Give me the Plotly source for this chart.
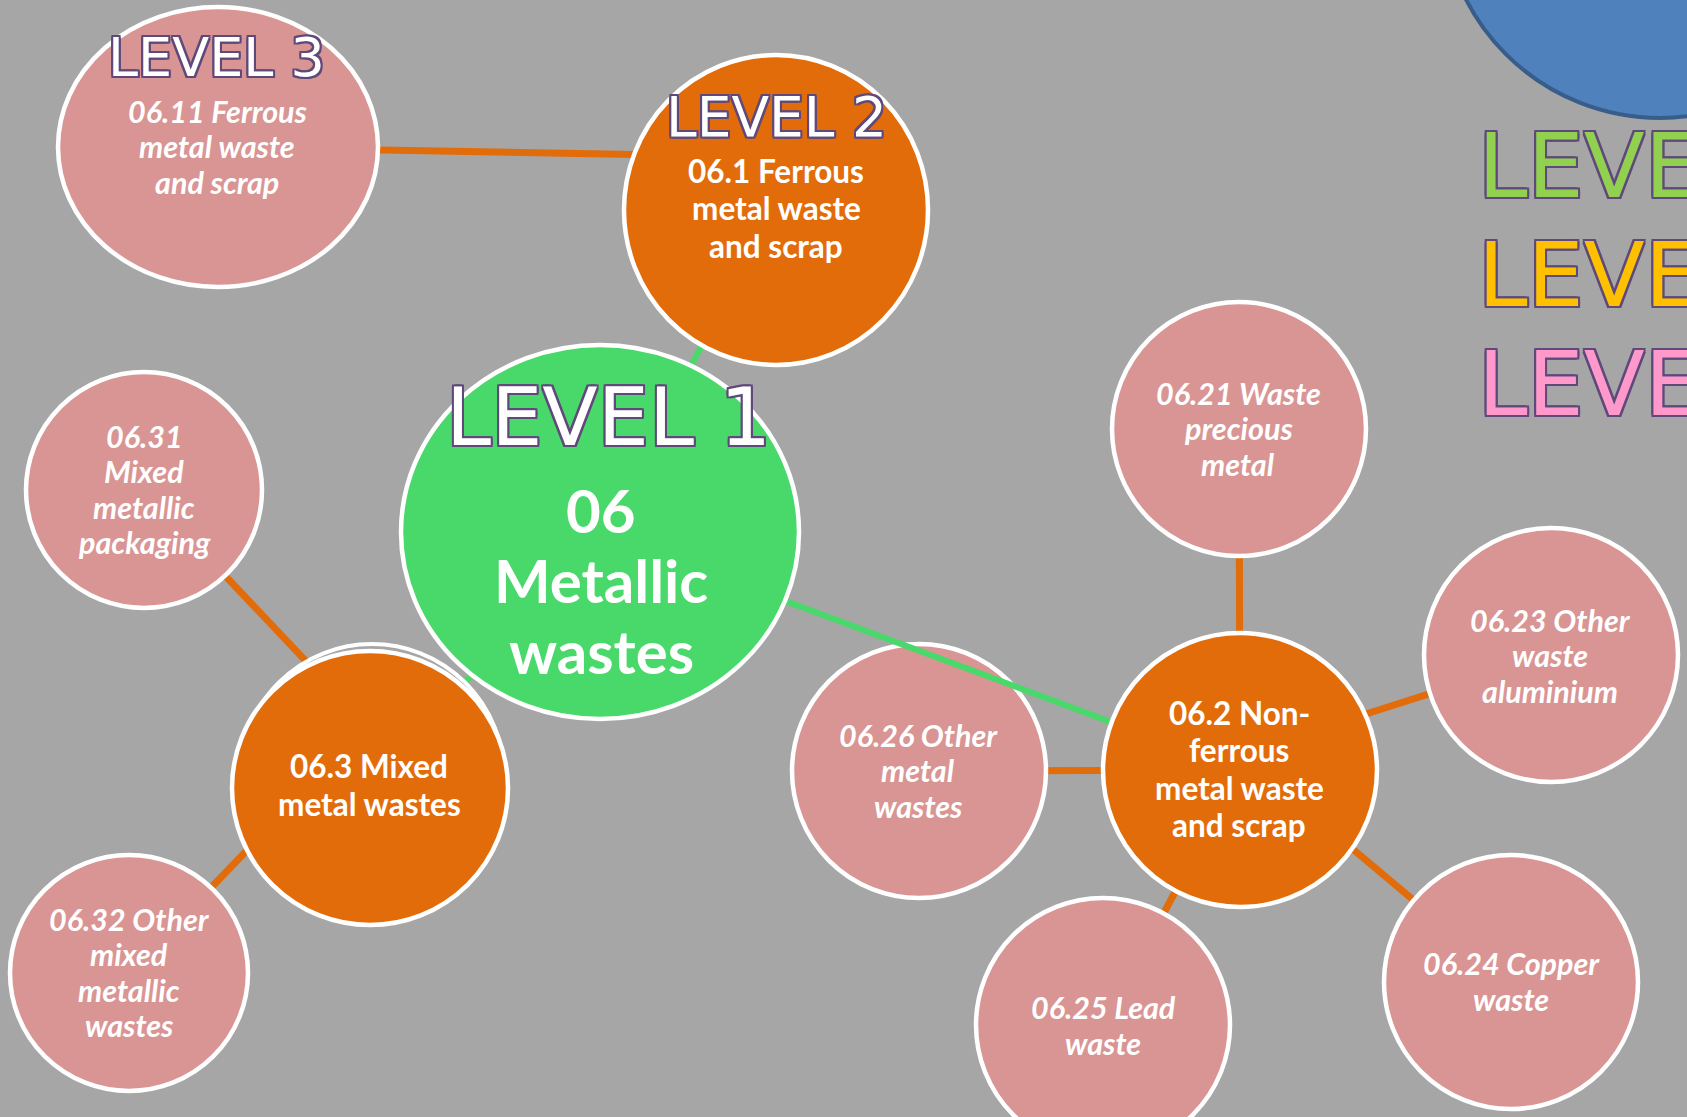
import math
import plotly.graph_objects as go

# ---- data -------------------------------------------------------------
node_ids = ["06", "06.1", "06.2", "06.3", "06.11", "06.21", "06.23", "06.24",
            "06.25", "06.26", "06.31", "06.32"]
node_labels = [
    "06<br>Metallic<br>wastes",
    "06.1 Ferrous<br>metal waste<br>and scrap",
    "06.2 Non-<br>ferrous<br>metal waste<br>and scrap",
    "06.3 Mixed<br>metal wastes",
    "06.11 Ferrous<br>metal waste<br>and scrap",
    "06.21 Waste<br>precious<br>metal",
    "06.23 Other<br>waste<br>aluminium",
    "06.24 Copper<br>waste",
    "06.25 Lead<br>waste",
    "06.26 Other<br>metal<br>wastes",
    "06.31<br>Mixed<br>metallic<br>packaging",
    "06.32 Other<br>mixed<br>metallic<br>wastes",
]
node_level = [1, 2, 2, 2, 3, 3, 3, 3, 3, 3, 3, 3]
node_x = [600, 776, 1240, 370, 218, 1239, 1551, 1511, 1103, 919, 144, 129]
node_y = [532, 210, 770, 788, 147, 429, 655, 982, 1025, 771, 490, 973]
node_rx = [199, 152, 137, 138, 160, 127, 127, 127, 127, 127, 118, 119]
node_ry = [187, 155, 137, 137, 140, 127, 127, 127, 127, 127, 118, 118]
text_x = [601, 776, 1239, 369, 217, 1238, 1550, 1511, 1103, 918, 144, 129]
text_y = [580, 208, 769, 785, 146, 428, 655, 981, 1025, 770, 489, 972]

# edges: parent -> child; port angle (deg, screen coords) on the parent rim, None = centre
edge_from = ["06", "06", "06", "06.1", "06.2", "06.2", "06.2", "06.2", "06.2", "06.3", "06.3"]
edge_to = ["06.1", "06.2", "06.3", "06.11", "06.21", "06.23", "06.24", "06.25", "06.26", "06.31", "06.32"]
edge_port = [None, None, None, 201, None, -24, 35, 118, None, 244, 153]

level_tags = ["LEVEL 1", "LEVEL 2", "LEVEL 3"]
level_tag_x = [608, 776, 216]
level_tag_y = [417, 117, 57]
level_tag_size = [81, 55, 54]

legend_tags = ["LEVEL 1", "LEVEL 2", "LEVEL 3"]
legend_colors = ["#92d050", "#ffc000", "#ff99cc"]
legend_y = [166, 275, 384]

# ---- styles -----------------------------------------------------------
BG = "#a6a6a6"
FILL = {1: "#49d96b", 2: "#e36c0a", 3: "#d99594"}
EDGE_COLOR = {1: "#49d96b", 2: "#e36c0a"}
PURPLE = "#5f497a"
TEXT_STYLE = {
    1: dict(size=60, spacing=70.5, style="normal"),
    2: dict(size=31.5, spacing=37.5, style="normal"),
    3: dict(size=30.5, spacing=35.5, style="italic"),
}

idx = {n: i for i, n in enumerate(node_ids)}
shapes = []


def ellipse(i, fill, line="white", lw=4.5):
    return dict(type="circle", xref="x", yref="y",
                x0=node_x[i] - node_rx[i], x1=node_x[i] + node_rx[i],
                y0=node_y[i] - node_ry[i], y1=node_y[i] + node_ry[i],
                fillcolor=fill, line=dict(color=line, width=lw), layer="above")


def edge(a, b, port):
    i, j = idx[a], idx[b]
    lvl = node_level[i]
    if port is None:
        px, py = node_x[i], node_y[i]
    else:
        px = node_x[i] + node_rx[i] * math.cos(math.radians(port))
        py = node_y[i] + node_ry[i] * math.sin(math.radians(port))
    return dict(type="line", xref="x", yref="y",
                x0=px, y0=py, x1=node_x[j], y1=node_y[j],
                line=dict(color=EDGE_COLOR[lvl], width=7 if lvl == 2 else 6),
                layer="above")


# blue circle at the top right corner
shapes.append(dict(type="circle", xref="x", yref="y", x0=1442, x1=1878, y0=-318, y1=118,
                   fillcolor="#4f81bd", line=dict(color="#385d8a", width=4), layer="above"))

# orange edges (level 2 -> level 3)
for a, b, p in zip(edge_from, edge_to, edge_port):
    if node_level[idx[a]] == 2:
        shapes.append(edge(a, b, p))
# level 3 nodes
for i in range(len(node_ids)):
    if node_level[i] == 3:
        shapes.append(ellipse(i, FILL[3]))
# green edges (level 1 -> level 2)
for a, b, p in zip(edge_from, edge_to, edge_port):
    if node_level[idx[a]] == 1:
        shapes.append(edge(a, b, p))
# faint duplicate outline peeking out above 06.3
g = idx["06.3"]
shapes.append(dict(type="circle", xref="x", yref="y",
                   x0=node_x[g] + 2 - 132, x1=node_x[g] + 2 + 132,
                   y0=node_y[g] - 12 - 132, y1=node_y[g] - 12 + 132,
                   fillcolor=BG, line=dict(color="white", width=4), layer="above"))
# level 1 and 2 nodes
for i in range(len(node_ids)):
    if node_level[i] in (1, 2):
        shapes.append(ellipse(i, FILL[node_level[i]]))

annotations = []
for i in range(len(node_ids)):
    st = TEXT_STYLE[node_level[i]]
    lines = node_labels[i].split("<br>")
    n = len(lines)
    for k, ln in enumerate(lines):
        annotations.append(dict(
            x=text_x[i], y=text_y[i] + (k - (n - 1) / 2) * st["spacing"],
            xref="x", yref="y", text=ln, showarrow=False,
            xanchor="center", yanchor="middle",
            font=dict(family="Lato", size=st["size"], color="white",
                      weight="bold", style=st["style"])))

outline = ", ".join(f"{dx}px {dy}px 0 {PURPLE}" for dx, dy in
                    [(-2, -2), (2, -2), (-2, 2), (2, 2), (0, 2), (0, -2), (2, 0), (-2, 0)])

for t, x, y, s in zip(level_tags, level_tag_x, level_tag_y, level_tag_size):
    annotations.append(dict(x=x, y=y, xref="x", yref="y", text=t, showarrow=False,
                            xanchor="center", yanchor="middle",
                            font=dict(family="DejaVu Sans", size=s, color="white",
                                      shadow=outline)))

for t, c, y in zip(legend_tags, legend_colors, legend_y):
    annotations.append(dict(x=1476, y=y, xref="x", yref="y", text=t, showarrow=False,
                            xanchor="left", yanchor="middle",
                            font=dict(family="DejaVu Sans", size=89, color=c,
                                      shadow=outline)))

fig = go.Figure()
fig.update_layout(
    width=1687, height=1117,
    margin=dict(l=0, r=0, t=0, b=0),
    paper_bgcolor=BG, plot_bgcolor=BG,
    xaxis=dict(range=[0, 1687], visible=False, fixedrange=True),
    yaxis=dict(range=[1117, 0], visible=False, fixedrange=True),
    shapes=shapes, annotations=annotations, showlegend=False,
)

fig.write_html("out.html", config={"displayModeBar": False},
               post_script="document.body.style.margin='0';document.body.style.overflow='hidden';")
